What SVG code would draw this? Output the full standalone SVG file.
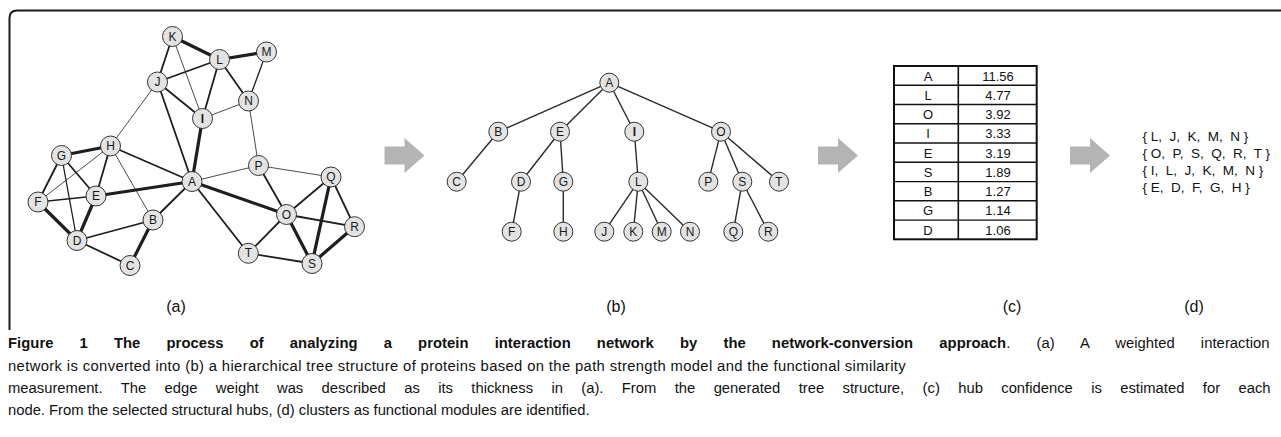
<svg xmlns="http://www.w3.org/2000/svg" width="1281" height="437" viewBox="0 0 1281 437">
  <style>
    .frame { fill: none; stroke: #1a1a1a; stroke-width: 2; }
    .e { stroke: #1e1e1e; stroke-linecap: round; fill: none; }
    .w1 { stroke-width: 0.8; }
    .w2 { stroke-width: 1.3; }
    .w3 { stroke-width: 1.8; }
    .w4 { stroke-width: 3.2; }
    .t { stroke: #2a2a2a; stroke-width: 1.4; fill: none; }
    .nd { fill: #e3e3e3; stroke: #333; stroke-width: 1; }
    .lb { font-family: "Liberation Sans", Arial, sans-serif; font-size: 12px; fill: #1a1a1a; text-anchor: middle; dominant-baseline: central; }
    .arrow { fill: #b4b4b4; }
    .cell { font-family: "Liberation Sans", Arial, sans-serif; font-size: 13px; fill: #111; text-anchor: middle; }
    .cl { font-family: "Liberation Sans", Arial, sans-serif; font-size: 13.5px; fill: #111; white-space: pre; }
    .pl { font-family: "Liberation Sans", Arial, sans-serif; font-size: 16px; fill: #111; text-anchor: middle; }
    .cap { font-family: "Liberation Sans", Arial, sans-serif; font-size: 15.5px; fill: #111; }
  </style>
  <defs>
    <polygon id="blockArrow" points="0,8.5 20,8.5 20,0 40,17.5 20,35 20,26.5 0,26.5"/>
  </defs>

  <rect width="1281" height="437" fill="#ffffff"/>

  <!-- figure frame: rounded top-left corner, open to the right -->
  <path class="frame" d="M9.5,330 V18 Q9.5,10.5 17,10.5 H1281"/>

  <!-- (a) weighted interaction network: connectors -->
  <g id="network-edges">
    <line class="e w4" x1="172.5" y1="36.5" x2="219.5" y2="59.5"/>
    <line class="e w4" x1="219.5" y1="59.5" x2="266.5" y2="52"/>
    <line class="e w4" x1="202.5" y1="118.5" x2="192" y2="181.5"/>
    <line class="e w4" x1="110.5" y1="146" x2="61.5" y2="155.5"/>
    <line class="e w4" x1="38" y1="202" x2="77" y2="240.5"/>
    <line class="e w4" x1="96" y1="196" x2="77" y2="240.5"/>
    <line class="e w4" x1="96" y1="196" x2="192" y2="181.5"/>
    <line class="e w4" x1="153" y1="220" x2="130" y2="265.5"/>
    <line class="e w4" x1="192" y1="181.5" x2="286.5" y2="214.5"/>
    <line class="e w4" x1="331" y1="177" x2="312" y2="263.5"/>
    <line class="e w4" x1="286.5" y1="214.5" x2="312" y2="263.5"/>
    <line class="e w4" x1="354.5" y1="226.7" x2="312" y2="263.5"/>

    <line class="e w3" x1="172.5" y1="36.5" x2="157.5" y2="82"/>
    <line class="e w3" x1="157.5" y1="82" x2="219.5" y2="59.5"/>
    <line class="e w3" x1="219.5" y1="59.5" x2="202.5" y2="118.5"/>
    <line class="e w3" x1="219.5" y1="59.5" x2="248.5" y2="101"/>
    <line class="e w3" x1="157.5" y1="82" x2="202.5" y2="118.5"/>
    <line class="e w3" x1="157.5" y1="82" x2="192" y2="181.5"/>
    <line class="e w3" x1="110.5" y1="146" x2="96" y2="196"/>
    <line class="e w3" x1="110.5" y1="146" x2="192" y2="181.5"/>
    <line class="e w3" x1="61.5" y1="155.5" x2="38" y2="202"/>
    <line class="e w3" x1="61.5" y1="155.5" x2="96" y2="196"/>
    <line class="e w3" x1="77" y1="240.5" x2="153" y2="220"/>
    <line class="e w3" x1="77" y1="240.5" x2="130" y2="265.5"/>
    <line class="e w3" x1="153" y1="220" x2="192" y2="181.5"/>
    <line class="e w3" x1="192" y1="181.5" x2="248.3" y2="253.3"/>
    <line class="e w3" x1="258.5" y1="165.5" x2="286.5" y2="214.5"/>
    <line class="e w3" x1="331" y1="177" x2="286.5" y2="214.5"/>
    <line class="e w3" x1="331" y1="177" x2="354.5" y2="226.7"/>
    <line class="e w3" x1="286.5" y1="214.5" x2="354.5" y2="226.7"/>
    <line class="e w3" x1="286.5" y1="214.5" x2="248.3" y2="253.3"/>
    <line class="e w3" x1="248.3" y1="253.3" x2="312" y2="263.5"/>

    <line class="e w2" x1="266.5" y1="52" x2="248.5" y2="101"/>
    <line class="e w2" x1="61.5" y1="155.5" x2="77" y2="240.5"/>
    <line class="e w2" x1="38" y1="202" x2="96" y2="196"/>

    <line class="e w1" x1="172.5" y1="36.5" x2="202.5" y2="118.5"/>
    <line class="e w1" x1="157.5" y1="82" x2="110.5" y2="146"/>
    <line class="e w1" x1="202.5" y1="118.5" x2="248.5" y2="101"/>
    <line class="e w1" x1="248.5" y1="101" x2="258.5" y2="165.5"/>
    <line class="e w1" x1="110.5" y1="146" x2="38" y2="202"/>
    <line class="e w1" x1="110.5" y1="146" x2="153" y2="220"/>
    <line class="e w1" x1="192" y1="181.5" x2="258.5" y2="165.5"/>
    <line class="e w1" x1="258.5" y1="165.5" x2="331" y2="177"/>
  </g>

  <!-- (a) network nodes -->
  <g id="net-A"><circle class="nd" cx="192" cy="181.5" r="10"/><text class="lb" x="192" y="181.5">A</text></g>
  <g id="net-B"><circle class="nd" cx="153" cy="220" r="10"/><text class="lb" x="153" y="220">B</text></g>
  <g id="net-C"><circle class="nd" cx="130" cy="265.5" r="10"/><text class="lb" x="130" y="265.5">C</text></g>
  <g id="net-D"><circle class="nd" cx="77" cy="240.5" r="10"/><text class="lb" x="77" y="240.5">D</text></g>
  <g id="net-E"><circle class="nd" cx="96" cy="196" r="10"/><text class="lb" x="96" y="196">E</text></g>
  <g id="net-F"><circle class="nd" cx="38" cy="202" r="10"/><text class="lb" x="38" y="202">F</text></g>
  <g id="net-G"><circle class="nd" cx="61.5" cy="155.5" r="10"/><text class="lb" x="61.5" y="155.5">G</text></g>
  <g id="net-H"><circle class="nd" cx="110.5" cy="146" r="10"/><text class="lb" x="110.5" y="146">H</text></g>
  <g id="net-I"><circle class="nd" cx="202.5" cy="118.5" r="10"/><text class="lb" x="202.5" y="118.5" font-weight="bold">I</text></g>
  <g id="net-J"><circle class="nd" cx="157.5" cy="82" r="10"/><text class="lb" x="157.5" y="82">J</text></g>
  <g id="net-K"><circle class="nd" cx="172.5" cy="36.5" r="10"/><text class="lb" x="172.5" y="36.5">K</text></g>
  <g id="net-L"><circle class="nd" cx="219.5" cy="59.5" r="10"/><text class="lb" x="219.5" y="59.5">L</text></g>
  <g id="net-M"><circle class="nd" cx="266.5" cy="52" r="10"/><text class="lb" x="266.5" y="52">M</text></g>
  <g id="net-N"><circle class="nd" cx="248.5" cy="101" r="10"/><text class="lb" x="248.5" y="101">N</text></g>
  <g id="net-O"><circle class="nd" cx="286.5" cy="214.5" r="10"/><text class="lb" x="286.5" y="214.5">O</text></g>
  <g id="net-P"><circle class="nd" cx="258.5" cy="165.5" r="10"/><text class="lb" x="258.5" y="165.5">P</text></g>
  <g id="net-Q"><circle class="nd" cx="331" cy="177" r="10"/><text class="lb" x="331" y="177">Q</text></g>
  <g id="net-R"><circle class="nd" cx="354.5" cy="226.7" r="10"/><text class="lb" x="354.5" y="226.7">R</text></g>
  <g id="net-S"><circle class="nd" cx="312" cy="263.5" r="10"/><text class="lb" x="312" y="263.5">S</text></g>
  <g id="net-T"><circle class="nd" cx="248.3" cy="253.3" r="10"/><text class="lb" x="248.3" y="253.3">T</text></g>

  <!-- conversion arrows -->
  <g id="arrows">
    <use href="#blockArrow" class="arrow" x="384.5" y="138"/>
    <use href="#blockArrow" class="arrow" x="818" y="138"/>
    <use href="#blockArrow" class="arrow" x="1070" y="138"/>
  </g>

  <!-- (b) hierarchical tree: connectors -->
  <g id="tree-edges">
    <line class="t" x1="609.3" y1="82.7" x2="498.3" y2="131.7"/>
    <line class="t" x1="609.3" y1="82.7" x2="560" y2="131.7"/>
    <line class="t" x1="609.3" y1="82.7" x2="634.3" y2="131.7"/>
    <line class="t" x1="609.3" y1="82.7" x2="721" y2="131.7"/>
    <line class="t" x1="498.3" y1="131.7" x2="456.7" y2="181.7"/>
    <line class="t" x1="560" y1="131.7" x2="521" y2="181.7"/>
    <line class="t" x1="560" y1="131.7" x2="563.3" y2="181.7"/>
    <line class="t" x1="521" y1="181.7" x2="511.7" y2="231.7"/>
    <line class="t" x1="563.3" y1="181.7" x2="563.3" y2="231.7"/>
    <line class="t" x1="634.3" y1="131.7" x2="638.3" y2="181.7"/>
    <line class="t" x1="638.3" y1="181.7" x2="604.3" y2="231.7"/>
    <line class="t" x1="638.3" y1="181.7" x2="633.3" y2="231.7"/>
    <line class="t" x1="638.3" y1="181.7" x2="661.7" y2="231.7"/>
    <line class="t" x1="638.3" y1="181.7" x2="690" y2="231.7"/>
    <line class="t" x1="721" y1="131.7" x2="708.3" y2="181.7"/>
    <line class="t" x1="721" y1="131.7" x2="742.3" y2="181.7"/>
    <line class="t" x1="721" y1="131.7" x2="779" y2="181.7"/>
    <line class="t" x1="742.3" y1="181.7" x2="733.3" y2="231.7"/>
    <line class="t" x1="742.3" y1="181.7" x2="768.3" y2="231.7"/>
  </g>

  <!-- (b) tree nodes -->
  <g id="tree-A"><circle class="nd" cx="609.3" cy="82.7" r="9.5"/><text class="lb" x="609.3" y="82.7">A</text></g>
  <g id="tree-B"><circle class="nd" cx="498.3" cy="131.7" r="9.5"/><text class="lb" x="498.3" y="131.7">B</text></g>
  <g id="tree-E"><circle class="nd" cx="560" cy="131.7" r="9.5"/><text class="lb" x="560" y="131.7">E</text></g>
  <g id="tree-I"><circle class="nd" cx="634.3" cy="131.7" r="9.5"/><text class="lb" x="634.3" y="131.7" font-weight="bold">I</text></g>
  <g id="tree-O"><circle class="nd" cx="721" cy="131.7" r="9.5"/><text class="lb" x="721" y="131.7">O</text></g>
  <g id="tree-C"><circle class="nd" cx="456.7" cy="181.7" r="9.5"/><text class="lb" x="456.7" y="181.7">C</text></g>
  <g id="tree-D"><circle class="nd" cx="521" cy="181.7" r="9.5"/><text class="lb" x="521" y="181.7">D</text></g>
  <g id="tree-G"><circle class="nd" cx="563.3" cy="181.7" r="9.5"/><text class="lb" x="563.3" y="181.7">G</text></g>
  <g id="tree-L"><circle class="nd" cx="638.3" cy="181.7" r="9.5"/><text class="lb" x="638.3" y="181.7">L</text></g>
  <g id="tree-P"><circle class="nd" cx="708.3" cy="181.7" r="9.5"/><text class="lb" x="708.3" y="181.7">P</text></g>
  <g id="tree-S"><circle class="nd" cx="742.3" cy="181.7" r="9.5"/><text class="lb" x="742.3" y="181.7">S</text></g>
  <g id="tree-T"><circle class="nd" cx="779" cy="181.7" r="9.5"/><text class="lb" x="779" y="181.7">T</text></g>
  <g id="tree-F"><circle class="nd" cx="511.7" cy="231.7" r="9.5"/><text class="lb" x="511.7" y="231.7">F</text></g>
  <g id="tree-H"><circle class="nd" cx="563.3" cy="231.7" r="9.5"/><text class="lb" x="563.3" y="231.7">H</text></g>
  <g id="tree-J"><circle class="nd" cx="604.3" cy="231.7" r="9.5"/><text class="lb" x="604.3" y="231.7">J</text></g>
  <g id="tree-K"><circle class="nd" cx="633.3" cy="231.7" r="9.5"/><text class="lb" x="633.3" y="231.7">K</text></g>
  <g id="tree-M"><circle class="nd" cx="661.7" cy="231.7" r="9.5"/><text class="lb" x="661.7" y="231.7">M</text></g>
  <g id="tree-N"><circle class="nd" cx="690" cy="231.7" r="9.5"/><text class="lb" x="690" y="231.7">N</text></g>
  <g id="tree-Q"><circle class="nd" cx="733.3" cy="231.7" r="9.5"/><text class="lb" x="733.3" y="231.7">Q</text></g>
  <g id="tree-R"><circle class="nd" cx="768.3" cy="231.7" r="9.5"/><text class="lb" x="768.3" y="231.7">R</text></g>

  <!-- (c) hub confidence table -->
  <g id="hub-table">
    <g fill="none" stroke="#111">
      <rect x="894" y="66" width="142.7" height="173.3" stroke-width="2"/>
      <line x1="958.3" y1="66" x2="958.3" y2="239.3" stroke-width="1.6"/>
      <line x1="894" y1="85.3" x2="1036.7" y2="85.3" stroke-width="1.4"/>
      <line x1="894" y1="104.5" x2="1036.7" y2="104.5" stroke-width="1.4"/>
      <line x1="894" y1="123.8" x2="1036.7" y2="123.8" stroke-width="1.4"/>
      <line x1="894" y1="143" x2="1036.7" y2="143" stroke-width="1.4"/>
      <line x1="894" y1="162.3" x2="1036.7" y2="162.3" stroke-width="1.4"/>
      <line x1="894" y1="181.6" x2="1036.7" y2="181.6" stroke-width="1.4"/>
      <line x1="894" y1="200.8" x2="1036.7" y2="200.8" stroke-width="1.4"/>
      <line x1="894" y1="220.1" x2="1036.7" y2="220.1" stroke-width="1.4"/>
    </g>
    <text class="cell" x="928" y="80.5">A</text><text class="cell" x="998" y="80.5">11.56</text>
    <text class="cell" x="928" y="99.8">L</text><text class="cell" x="998" y="99.8">4.77</text>
    <text class="cell" x="928" y="119">O</text><text class="cell" x="998" y="119">3.92</text>
    <text class="cell" x="928" y="138.3">I</text><text class="cell" x="998" y="138.3">3.33</text>
    <text class="cell" x="928" y="157.5">E</text><text class="cell" x="998" y="157.5">3.19</text>
    <text class="cell" x="928" y="176.8">S</text><text class="cell" x="998" y="176.8">1.89</text>
    <text class="cell" x="928" y="196.1">B</text><text class="cell" x="998" y="196.1">1.27</text>
    <text class="cell" x="928" y="215.3">G</text><text class="cell" x="998" y="215.3">1.14</text>
    <text class="cell" x="928" y="234.6">D</text><text class="cell" x="998" y="234.6">1.06</text>
  </g>

  <!-- (d) functional modules -->
  <g id="clusters">
    <text class="cl" xml:space="preserve" x="1142.5" y="140.5">{ L,  J,  K,  M,  N }</text>
    <text class="cl" xml:space="preserve" x="1142.5" y="157.5">{ O,  P,  S,  Q,  R,  T }</text>
    <text class="cl" xml:space="preserve" x="1142.5" y="174.5">{ I,  L,  J,  K,  M,  N }</text>
    <text class="cl" xml:space="preserve" x="1142.5" y="191.5">{ E,  D,  F,  G,  H }</text>
  </g>

  <!-- panel letters -->
  <g id="panel-labels">
    <text class="pl" x="176" y="311.5">(a)</text>
    <text class="pl" x="616" y="311.5">(b)</text>
    <text class="pl" x="1012" y="311.5">(c)</text>
    <text class="pl" x="1194" y="311.5">(d)</text>
  </g>

  <!-- caption: slightly narrowed sans, justified lines use word spacing -->
  <g id="caption">
    <text class="cap" transform="translate(8,348) scale(0.955,1)" word-spacing="23" textLength="1321" lengthAdjust="spacing"><tspan font-weight="bold">Figure 1 The process of analyzing a protein interaction network by the network-conversion approach</tspan>. (a) A weighted interaction</text>
    <text class="cap" transform="translate(8,371) scale(0.955,1)" textLength="940" lengthAdjust="spacing">network is converted into (b) a hierarchical tree structure of proteins based on the path strength model and the functional similarity</text>
    <text class="cap" transform="translate(8,393) scale(0.955,1)" word-spacing="14.9" textLength="1322" lengthAdjust="spacing">measurement. The edge weight was described as its thickness in (a). From the generated tree structure, (c) hub confidence is estimated for each</text>
    <text class="cap" transform="translate(8,415) scale(0.955,1)" textLength="609" lengthAdjust="spacing">node. From the selected structural hubs, (d) clusters as functional modules are identified.</text>
  </g>
</svg>
